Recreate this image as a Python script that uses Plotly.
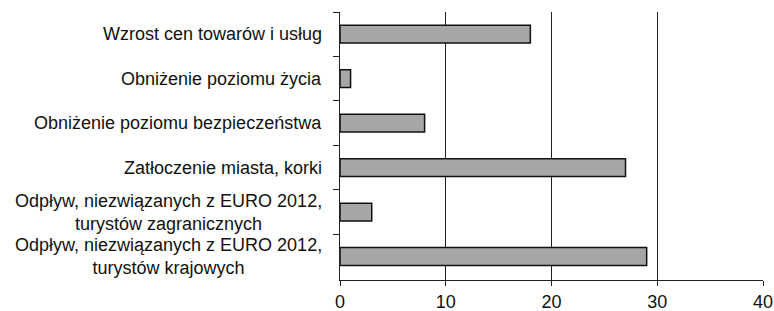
import plotly.graph_objects as go

categories = [
    "Wzrost cen towarów i usług",
    "Obniżenie poziomu życia",
    "Obniżenie poziomu bezpieczeństwa",
    "Zatłoczenie miasta, korki",
    "Odpływ, niezwiązanych z EURO 2012,<br>turystów zagranicznych",
    "Odpływ, niezwiązanych z EURO 2012,<br>turystów krajowych",
]
values = [18, 1, 8, 27, 3, 29]
x_ticks = [0, 10, 20, 30, 40]

FONT = "Liberation Sans, Arial, Helvetica, sans-serif"

fig = go.Figure(
    go.Bar(
        x=values,
        y=categories,
        orientation="h",
        marker=dict(color="#a6a6a6", line=dict(color="#111111", width=1.5)),
        width=0.4,
        hoverinfo="x+y",
    )
)

annotations = []
for c in categories:
    annotations.append(
        dict(
            x=0, xref="paper", y=c, yref="y",
            text=c, showarrow=False, xanchor="right", yanchor="middle",
            align="center", xshift=-16,
            font=dict(family=FONT, size=18, color="#111111"),
        )
    )

fig.update_layout(
    width=774, height=311,
    margin=dict(l=340, r=11, t=12, b=31),
    paper_bgcolor="white", plot_bgcolor="white",
    showlegend=False,
    annotations=annotations,
    xaxis=dict(
        range=[0, 40], tickvals=x_ticks, ticktext=[str(v) for v in x_ticks],
        showgrid=True, gridcolor="#222222", gridwidth=1,
        showline=True, linecolor="#222222", linewidth=1,
        ticks="outside", ticklen=5, tickcolor="#222222",
        zeroline=False, automargin=False,
        tickfont=dict(family=FONT, size=18, color="#111111"),
    ),
    yaxis=dict(
        autorange="reversed", type="category",
        showticklabels=False, automargin=False,
        showline=True, linecolor="#222222", linewidth=1,
        ticks="outside", ticklen=6, tickcolor="#222222", tickson="boundaries",
        showgrid=False,
    ),
)

fig.write_html(
    "out.html",
    config={"displayModeBar": False},
    post_script="document.body.style.margin='0px';document.body.style.overflow='hidden';",
)
